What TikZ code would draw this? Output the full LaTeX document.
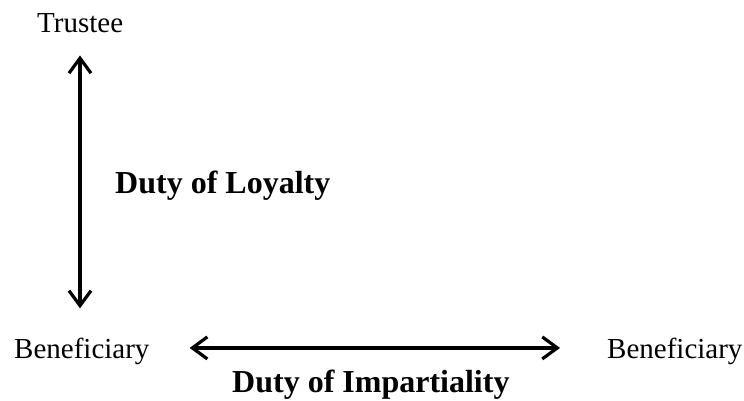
\documentclass[tikz,border=0pt]{standalone}
\usepackage{fontspec}
\setmainfont{Liberation Serif}
\usetikzlibrary{arrows.meta}
\begin{document}
\begin{tikzpicture}[x=1pt,y=-1pt,
  lbl/.style={inner sep=0pt,anchor=base west,font=\fontsize{29}{32}\selectfont},
  duty/.style={inner sep=0pt,anchor=base west,font=\fontsize{32}{36}\selectfont\bfseries},
  dbl/.style={line width=3.2pt,{Straight Barb[length=15pt,width=22pt]}-{Straight Barb[length=15pt,width=22pt]}}]
\useasboundingbox (0,0) rectangle (744,401);
\node[lbl] (trustee) at (37,33) {Trustee};
\node[lbl] (benL) at (14,358) {Beneficiary};
\node[lbl] (benR) at (607,358) {Beneficiary};
\node[duty] (loyal) at (115,193) {Duty of Loyalty};
\node[duty] (impart) at (232,392) {Duty of Impartiality};
\coordinate (vtop) at (trustee.south -| 80,0);
\coordinate (vbot) at (benL.north -| 80,0);
\draw[dbl,shorten <=22pt,shorten >=29pt] (vtop) -- (vbot);
\draw[dbl,shorten <=40pt,shorten >=47pt] ([yshift=3pt]benL.east) -- ([yshift=3pt]benR.west);
\end{tikzpicture}
\end{document}
